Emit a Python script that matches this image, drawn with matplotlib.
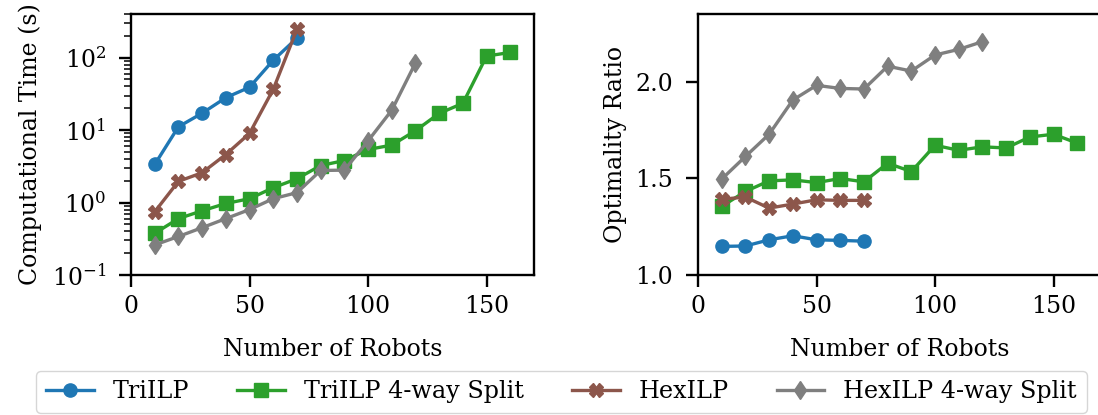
import matplotlib.pyplot as plt

plt.rcParams['font.family'] = 'DejaVu Serif'
plt.rcParams['font.size'] = 17

# robot counts
n_small = [10, 20, 30, 40, 50, 60, 70]
n_tri_split = [10, 20, 30, 40, 50, 60, 70, 80, 90, 100, 110, 120, 130, 140, 150, 160]
n_hex_split = [10, 20, 30, 40, 50, 60, 70, 80, 90, 100, 110, 120]

# computational time (s)
t_tri = [3.35, 11.1, 17.1, 28, 39, 92, 186]
t_tri_split = [0.376, 0.60, 0.77, 0.97, 1.13, 1.6, 2.13, 3.24, 3.8, 5.4, 6.2, 9.8, 17, 23.4, 105, 118]
t_hex = [0.745, 1.96, 2.58, 4.6, 9.0, 36.5, 246]
t_hex_split = [0.26, 0.34, 0.45, 0.60, 0.80, 1.13, 1.37, 2.77, 2.8, 7.1, 18.8, 84.5]

# optimality ratio
r_tri = [1.148, 1.150, 1.182, 1.203, 1.182, 1.179, 1.175]
r_tri_split = [1.355, 1.432, 1.487, 1.492, 1.478, 1.499, 1.482, 1.578, 1.535, 1.671,
               1.645, 1.663, 1.657, 1.714, 1.728, 1.682]
r_hex = [1.392, 1.403, 1.346, 1.367, 1.389, 1.386, 1.386]
r_hex_split = [1.496, 1.613, 1.728, 1.905, 1.981, 1.965, 1.962, 2.080, 2.055, 2.138,
               2.167, 2.207]

labels = ['TriILP', 'TriILP 4-way Split', 'HexILP', 'HexILP 4-way Split']
colors = ['tab:blue', 'tab:green', 'tab:brown', 'tab:gray']
markers = ['o', 's', 'X', 'd']

fig = plt.figure(figsize=(10.98, 4.15), dpi=100)
W, H = 1098, 415
ax1 = fig.add_axes([131 / W, 140 / H, 403 / W, 261 / H])
ax2 = fig.add_axes([698 / W, 140 / H, 403 / W, 261 / H])

xs = [n_small, n_tri_split, n_small, n_hex_split]
times = [t_tri, t_tri_split, t_hex, t_hex_split]
ratios = [r_tri, r_tri_split, r_hex, r_hex_split]

for i in range(4):
    ax1.plot(xs[i], times[i], color=colors[i], marker=markers[i],
             lw=2.4, ms=9.5, label=labels[i])
    ax2.plot(xs[i], ratios[i], color=colors[i], marker=markers[i],
             lw=2.4, ms=9.5)

ax1.set_yscale('log')
ax1.set_ylim(0.1, 400)
ax1.set_ylabel('Computational Time (s)', labelpad=7)
ax2.set_ylim(1.0, 2.35)
ax2.set_yticks([1.0, 1.5, 2.0])
ax2.set_ylabel('Optimality Ratio', labelpad=6)

for ax in (ax1, ax2):
    ax.set_xlim(0, 170)
    ax.set_xticks([0, 50, 100, 150])
    ax.set_xlabel('Number of Robots', labelpad=14)
    for s in ax.spines.values():
        s.set_linewidth(1.7)
    ax.tick_params(which='major', length=8.5, width=1.7)
    ax.tick_params(which='minor', length=5, width=1.1)
    ax.tick_params(axis='x', which='major', pad=6)
    ax.tick_params(axis='y', which='major', pad=9.5)

fig.legend(loc='lower center', bbox_to_anchor=(561.5 / W, 2 / H), ncol=4,
           borderaxespad=0, fontsize=17.2)

fig.savefig('out.png', dpi=100)
